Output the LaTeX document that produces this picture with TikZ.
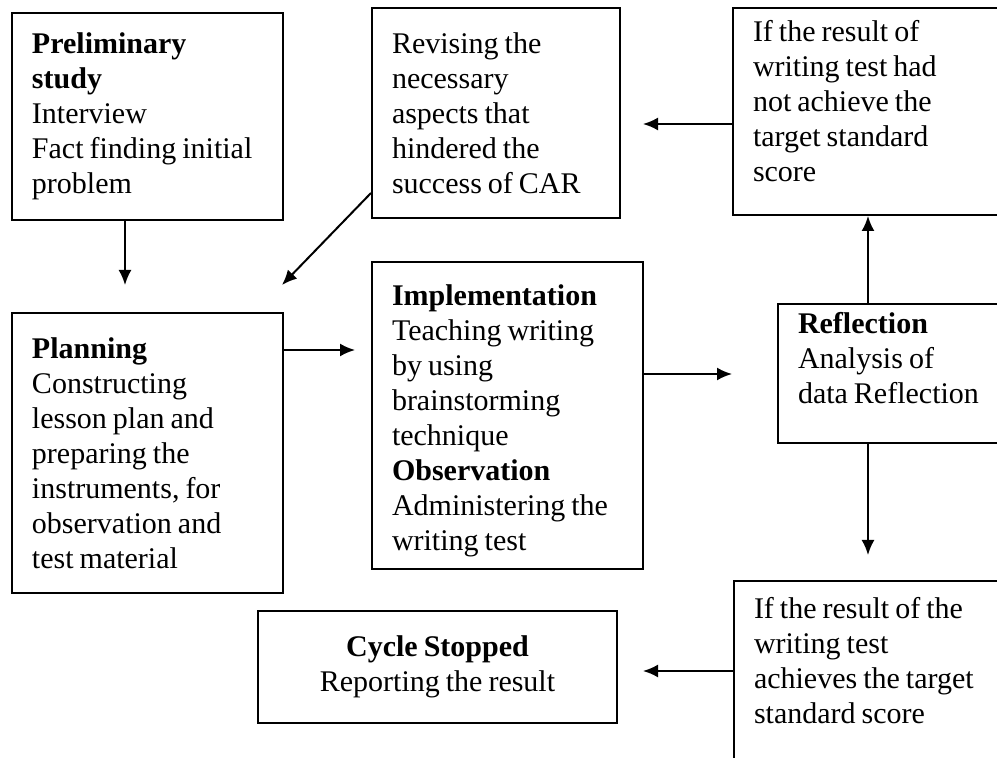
\documentclass[tikz,border=0pt]{standalone}
\usepackage{fontspec}
\setmainfont[WordSpace=0.8]{Liberation Serif}
\usetikzlibrary{arrows.meta}
\newcommand{\dpt}[1]{\rule[-#1]{0pt}{#1}}
\begin{document}
\begin{tikzpicture}[x=0.5pt,y=-0.5pt,
  box/.style={draw, line width=1pt, inner xsep=10pt, inner ysep=4pt, align=flush left,
    font=\fontsize{15}{17.5}\selectfont},
  arr/.style={line width=1pt, -{Latex[length=7.5pt,width=6.5pt]}}]
\useasboundingbox[fill=white] (0,0) rectangle (997,758);
% boxes
\node[box, text width=115.5pt, minimum width=135.5pt, minimum height=103.5pt] (pre) at (147.5,116.5)
  {\textbf{Preliminary}\\\textbf{study}\\Interview\\Fact finding initial\\problem};
\node[box, text width=104pt, minimum width=124pt, minimum height=105pt] (rev) at (496,113)
  {Revising the\\necessary\\aspects that\\hindered the\\success of CAR};
\node[box, text width=118.5pt, minimum width=138.5pt, minimum height=103.5pt] (nach) at (871.5,111.5)
  {If the result of\\writing test had\\not achieve the\\target standard\\score\dpt{11pt}};
\node[box, text width=115.5pt, minimum width=135.5pt, minimum height=140pt] (plan) at (147.5,453)
  {\textbf{Planning}\\Constructing\\lesson plan and\\preparing the\\instruments, for\\observation and\\test material};
\node[box, text width=115.5pt, minimum width=135.5pt, minimum height=153.5pt] (impl) at (507.5,415.5)
  {\rule{0pt}{16pt}\textbf{Implementation}\\Teaching writing\\by using\\brainstorming\\technique\\\textbf{Observation}\\Administering the\\writing test};
\node[box, text width=96pt, minimum width=116pt, minimum height=68.5pt] (refl) at (894,373.5)
  {\textbf{Reflection}\\Analysis of\\data Reflection\dpt{16pt}};
\node[box, align=center, minimum width=179.5pt, minimum height=56pt] (stop) at (437.5,667)
  {\textbf{Cycle Stopped}\\Reporting the result};
\node[box, anchor=north west, text width=120pt, minimum width=140pt, inner ysep=8pt] (ach) at (733,580)
  {If the result of the\\writing test\\achieves the target\\standard score\dpt{60pt}};
% helper coordinates
\coordinate (t1) at (125,285);
\coordinate (s2) at (0,193);
\coordinate (t2) at (282,285);
\coordinate (t3) at (355,350);
\coordinate (t4) at (732,374);
\coordinate (t5) at (643,124);
\coordinate (x6) at (868,0);
\coordinate (t7) at (868,555);
\coordinate (t8) at (643,671);
% connectors
\draw[arr] (pre.south -| t1) -- (t1);
\draw[arr] (rev.west |- s2) -- (t2);
\draw[arr] (plan.east |- t3) -- (t3);
\draw[arr] (impl.east |- t4) -- (t4);
\draw[arr] (nach.west |- t5) -- (t5);
\draw[arr] (refl.north -| x6) -- (nach.south -| x6);
\draw[arr] (refl.south -| t7) -- (t7);
\draw[arr] (ach.west |- t8) -- (t8);
\end{tikzpicture}
\end{document}
